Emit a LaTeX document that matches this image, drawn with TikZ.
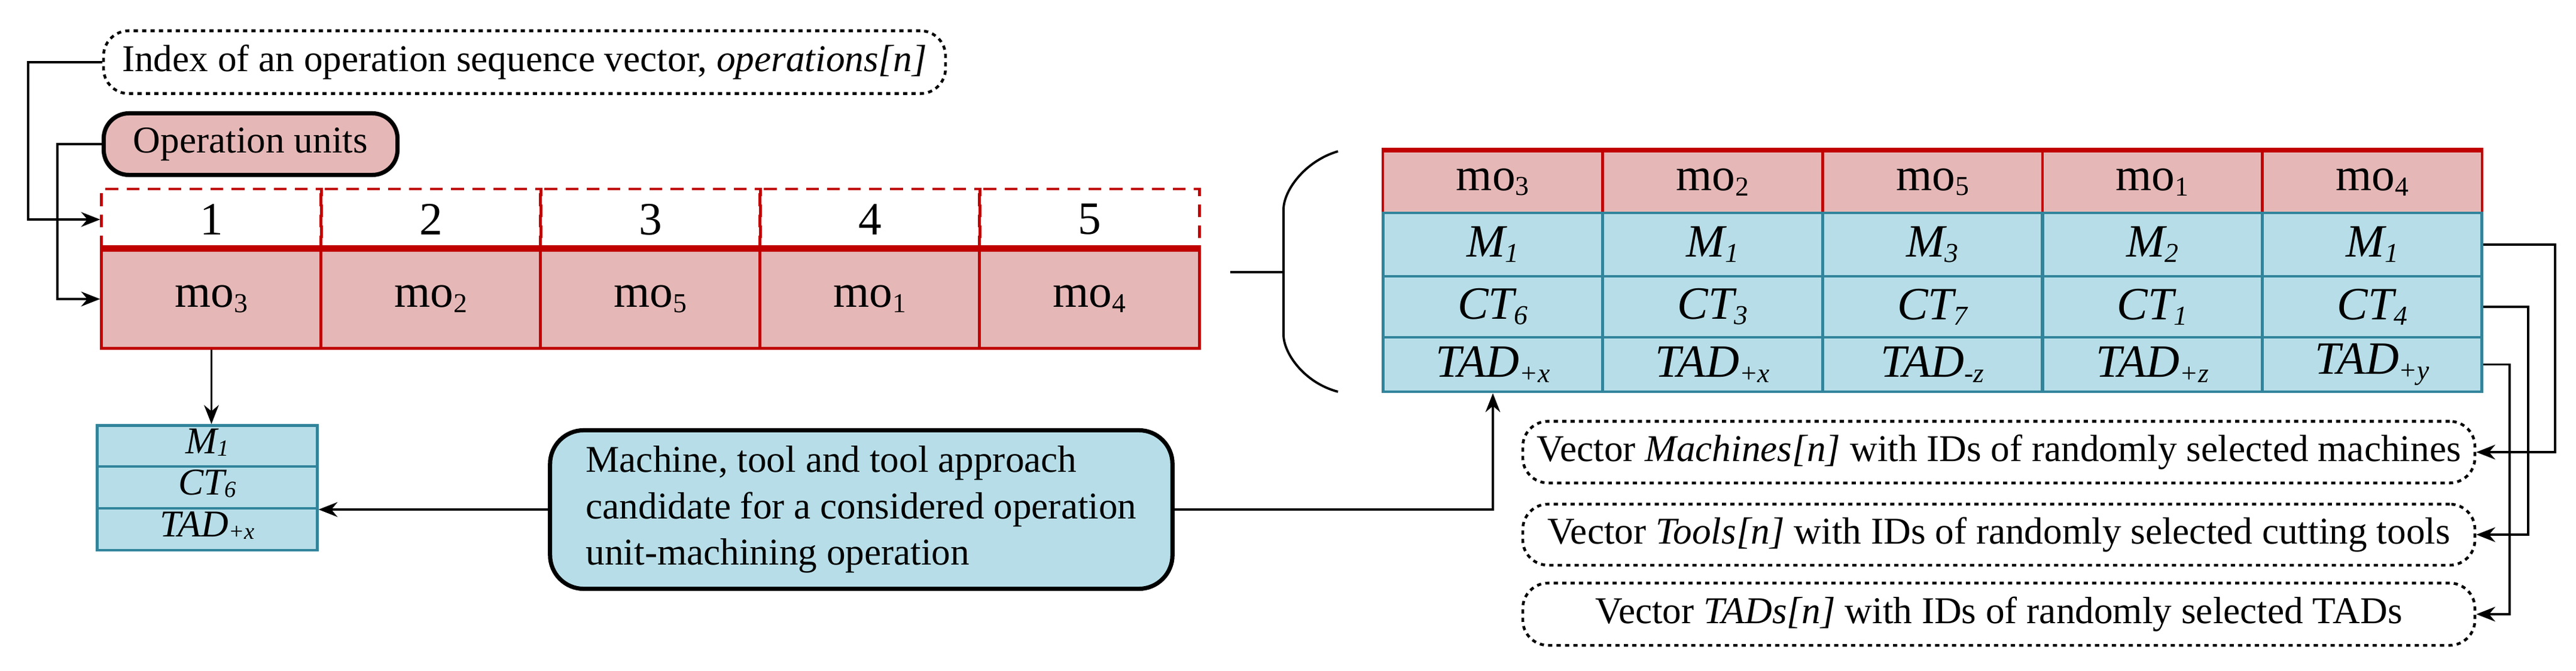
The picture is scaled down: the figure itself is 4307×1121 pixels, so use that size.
\documentclass[tikz,border=0pt]{standalone}
\usepackage{fontspec}
\setmainfont{Liberation Serif}
\usetikzlibrary{arrows.meta,calc}
\definecolor{pk}{HTML}{E5B8B7}
\definecolor{rd}{HTML}{C00000}
\definecolor{bl}{HTML}{B7DEE8}
\definecolor{tl}{HTML}{31849B}
\newcommand\sbs[1]{\raisebox{-0.25ex}{\fontsize{13}{13}\selectfont #1}}
\newcommand\sbss[1]{\raisebox{-0.15ex}{\fontsize{11}{11}\selectfont #1}}
\begin{document}
\begin{tikzpicture}[x=0.01cm,y=-0.01cm,
  lbl/.style={font=\fontsize{18}{22}\selectfont},
  cellt/.style={font=\fontsize{22}{26}\selectfont, inner sep=0pt, minimum width=3.67cm},
  smt/.style={font=\fontsize{18}{20}\selectfont, inner sep=0pt, minimum width=3.67cm, draw=tl, fill=bl, line width=1.4pt, text height=1.7ex, text depth=0.2ex},
  dotbox/.style={draw, rounded corners=12pt, line width=1.3pt, dash pattern=on 2pt off 2pt, lbl, inner sep=0pt},
  arr/.style={-{Stealth[length=9pt,width=7pt]}, line width=1.1pt},
  ln/.style={line width=1.1pt}]
\useasboundingbox (0,0) rectangle (4307,1121);
% top labels
\node[dotbox, minimum width=14.07cm, minimum height=1.05cm] (idx) at (877,104) {Index of an operation sequence vector, \textit{operations[n]}};
\node[draw, rounded corners=12pt, line width=2pt, fill=pk, lbl, minimum width=4.91cm, minimum height=1.03cm, inner sep=0pt] (ou) at (419,241) {Operation units};
% left table
\foreach \i/\m in {1/3,2/2,3/5,4/1,5/4}{
  \pgfmathsetmacro\cx{170+367*(\i-1)+183.5}
  \node[cellt, draw=rd, line width=1.4pt, dash pattern=on 6pt off 4pt, minimum height=1.02cm] (n\i) at (\cx,367) {\i};
  \node[cellt, draw=rd, fill=pk, line width=1.4pt, minimum height=1.64cm] (m\i) at (\cx,500) {mo\sbs{\m}};
}
\draw[rd, line width=3pt] (m1.north west) -- (m5.north east);
% right table
\foreach \i/\m/\a/\c/\t in {1/3/1/6/+x,2/2/1/3/+x,3/5/3/7/-z,4/1/2/1/+z,5/4/1/4/+y}{
  \pgfmathsetmacro\cx{2312+367.6*(\i-1)+183.8}
  \node[cellt, draw=rd, fill=pk, line width=1.2pt, minimum height=1.03cm] (rmo\i) at (\cx,304.5) {mo\sbs{\m}};
  \node[cellt, draw=tl, fill=bl, line width=1.4pt, minimum height=1.06cm] (rM\i) at (\cx,409) {\textit{M\sbs{\a}}};
  \node[cellt, draw=tl, fill=bl, line width=1.4pt, minimum height=1.02cm] (rC\i) at (\cx,513) {\textit{CT\sbs{\c}}};
  \node[cellt, draw=tl, fill=bl, line width=1.4pt, minimum height=0.91cm] (rT\i) at (\cx,609.5) {\textit{TAD\sbs{\t}}};
}
\draw[rd, line width=2pt] (rmo1.north west) -- (rmo5.north east);
% small table
\node[smt, minimum height=0.69cm] (sM) at (346.5,746) {\textit{M\sbss{1}}};
\node[smt, minimum height=0.70cm] (sC) at (346.5,815) {\textit{CT\sbss{6}}};
\node[smt, minimum height=0.70cm] (sT) at (346.5,885) {\textit{TAD\sbss{+x}}};
% center box
\node[draw, rounded corners=16pt, line width=2pt, fill=bl, lbl, align=left, minimum width=10.4cm, minimum height=2.65cm, inner xsep=10pt] (cb) at (1440,852) {Machine, tool and tool approach\\candidate for a considered operation\\unit-machining operation};
% dotted vector boxes
\node[dotbox, minimum width=15.91cm, minimum height=1.03cm] (v1) at (3342,756) {Vector \textit{Machines[n]} with IDs of randomly selected machines};
\node[dotbox, minimum width=15.91cm, minimum height=1.02cm] (v2) at (3342,894) {Vector \textit{Tools[n]} with IDs of randomly selected cutting tools};
\node[dotbox, minimum width=15.91cm, minimum height=1.04cm] (v3) at (3342,1027) {Vector \textit{TADs[n]} with IDs of randomly selected TADs};
% brace
\coordinate (bt) at (2237,253);
\coordinate (bb) at (2237,655);
\coordinate (btip) at (2146,455);
\draw[ln] (bt) .. controls (2180,270) and (2146,320) .. (2146,350) -- (2146,560) .. controls (2146,590) and (2180,640) .. (bb);
\coordinate (bl0) at (2057,455);
\draw[ln] (bl0) -- (btip);
% connectors
\coordinate (c1) at (47,0);
\coordinate (c2) at (96,0);
\draw[arr] (idx.west) -| (c1 |- idx.west) -- (c1 |- n1.west) -- (n1.west);
\draw[arr] (ou.west) -| (c2 |- ou.west) -- (c2 |- m1.west) -- (m1.west);
\draw[arr] (m1.south) -- (m1.south |- sM.north);
\draw[arr] (cb.west) -- (sT.east |- cb.west);
\coordinate (c3) at (2496,0);
\draw[arr] (cb.east) -| (c3 |- rT1.south);
\coordinate (c4) at (4272,0);
\coordinate (c5) at (4227,0);
\coordinate (c6) at (4196,0);
\draw[arr] (rM5.east) -| (c4 |- v1.east) -- (v1.east);
\draw[arr] (rC5.east) -| (c5 |- v2.east) -- (v2.east);
\draw[arr] (rT5.east) -| (c6 |- v3.east) -- (v3.east);
\end{tikzpicture}
\end{document}
